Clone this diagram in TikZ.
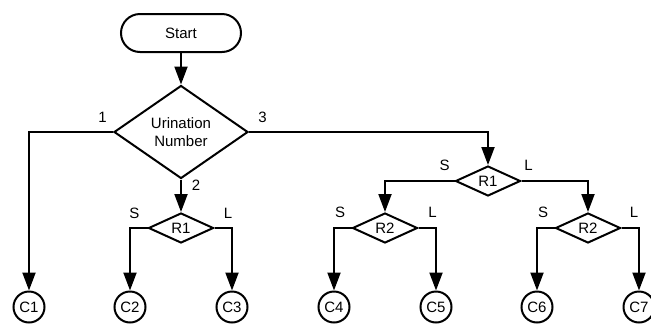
\documentclass[tikz,border=0pt]{standalone}
\usepackage{fontspec}
\setmainfont{Liberation Sans}
\usetikzlibrary{arrows.meta, shapes.geometric, positioning}

\begin{document}
\begin{tikzpicture}[x=1pt, y=-1pt, line width=2pt,
        every node/.style={font=\fontsize{15pt}{18pt}\selectfont},
        terminal/.style={draw, rectangle, rounded corners=19pt, minimum width=120pt, minimum height=38pt},
        bigdecision/.style={draw, diamond, aspect=1.43, inner sep=0pt, minimum width=134pt, minimum height=93pt, align=center},
        decision/.style={draw, diamond, aspect=2, inner sep=0pt, minimum width=65pt, minimum height=30pt},
        leaf/.style={draw, circle, inner sep=0pt, minimum size=31pt},
        branch/.style={inner sep=0pt},
        flow/.style={-{Triangle[length=18pt,width=13pt]}, line join=miter}]
        \useasboundingbox (0,0) rectangle (651,325);

        % start and first decision
        \node[terminal] (start) at (181,33) {Start};
        \node[bigdecision] (urin) at (181,132) {Urination\\Number};

        % R1 / R2 decisions
        \node[decision] (ra) at (181,228) {R1};
        \node[decision] (rb) at (488,181) {R1};
        \node[decision] (rc) at (385,228) {R2};
        \node[decision] (rd) at (588,228) {R2};

        % classes
        \foreach \i/\x in {1/29, 2/130, 3/232, 4/334, 5/436, 6/537, 7/639}
        {
            \node[leaf] (c\i) at (\x,307) {C\i};
        }

        % connectors
        \draw[flow] (start) -- (urin);
        \draw[flow] (urin.west) -| (c1);
        \draw[flow] (urin.south) -- (ra.north);
        \draw[flow] (urin.east) -| (rb);
        \draw[flow] (ra.west) -| (c2);
        \draw[flow] (ra.east) -| (c3);
        \draw[flow] (rb.west) -| (rc);
        \draw[flow] (rb.east) -| (rd);
        \draw[flow] (rc.west) -| (c4);
        \draw[flow] (rc.east) -| (c5);
        \draw[flow] (rd.west) -| (c6);
        \draw[flow] (rd.east) -| (c7);

        % branch labels
        \node[branch] (one) at (102.5,117) {1};
        \node[branch] (two) at (196,185) {2};
        \node[branch] (three) at (262.5,117) {3};
        \node[branch] (sa) at (134.5,213.5) {S};
        \node[branch] (la) at (228,213.5) {L};
        \node[branch] (sb) at (444.5,165.5) {S};
        \node[branch] (lb) at (528.5,165.5) {L};
        \node[branch] (sc) at (340,212.5) {S};
        \node[branch] (lc) at (432.5,212.5) {L};
        \node[branch] (sd) at (543,212.5) {S};
        \node[branch] (ld) at (634,212.5) {L};
\end{tikzpicture}
\end{document}
